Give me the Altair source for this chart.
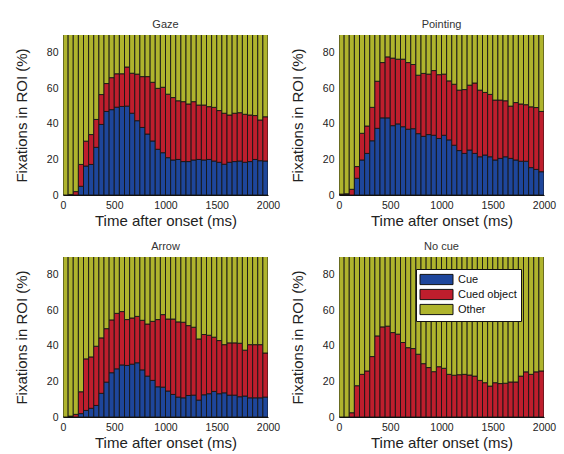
import altair as alt
import pandas as pd

# ---- data (percent of fixations per 50 ms bin) ----
bin_starts = list(range(0, 2000, 50))
bin_width = 50
categories = ["Cue", "Cued object", "Other"]
colors = ["#1e469b", "#be1e2d", "#afb42d"]

gaze_cue = [0, 0, 0, 4.9, 16.3, 17.2, 26.8, 39.7, 47, 48, 49.4, 49.8, 50, 46, 41.8, 38, 34.3, 30.4, 25.7, 23.8,
            21, 19.7, 20, 18.8, 18.8, 19.7, 20, 19.7, 20, 19.1, 18.4, 17.3, 18.4, 18.8, 19.1, 18.4, 18.8, 20, 19.3, 19.1]
gaze_cued = [0, 0.3, 1.9, 12.3, 14.0, 16.8, 15.7, 16.8, 15.7, 18.0, 18.8, 18.4, 22.0, 22.5, 26.2, 28.6, 32.3, 33.0, 34.3, 36.8,
             35.7, 35.1, 33.0, 33.7, 32.4, 32.8, 30.6, 30.9, 29.7, 30.2, 29.1, 28.7, 26.6, 27.2, 27.2, 27.0, 26.2, 24.7, 22.9, 24.9]

point_cue = [0, 0.3, 0, 9.4, 19.7, 23.4, 30.5, 37.5, 43.4, 43.4, 39, 40, 38.4, 37, 37.3, 34.5, 33, 34, 33.6, 31.8,
             33.6, 31, 28, 25, 23.4, 25.3, 23.4, 21.5, 22.5, 21.5, 19.7, 20.6, 21.5, 20.6, 19.7, 19, 19, 15.4, 14.4, 13.1]
point_cued = [0.5, 0.4, 3.2, 6.6, 15.0, 15.4, 18.8, 26.5, 31.1, 34.3, 38.0, 36.4, 38.0, 37.5, 36.1, 32.9, 35.4, 34.0, 36.4, 35.9,
              34.4, 33.2, 34.3, 34.0, 35.9, 36.5, 39.6, 37.5, 35.2, 35.1, 33.7, 32.8, 31.5, 29.4, 32.3, 32.2, 31.8, 34.2, 34.8, 33.9]

arrow_cue = [0, 0.3, 0, 1.9, 3.7, 4.9, 6.5, 13.3, 19.6, 24.9, 27.1, 29.3, 29, 29.7, 30.5, 26.5, 23, 20.6, 17, 16.8,
             14.6, 12.7, 11.2, 10.8, 12.1, 12.3, 9.5, 12.5, 13.1, 14.4, 13.1, 13.6, 12.3, 12.3, 11.4, 11.8, 10.8, 10.8, 10.8, 11.2]
arrow_cued = [0, 0.2, 1.5, 12.3, 29.0, 28.9, 33.3, 31.2, 30.1, 29.7, 31.2, 30.0, 25.8, 26.0, 26.1, 27.9, 29.3, 33.2, 37.8, 40.8,
              40.5, 42.4, 42.3, 42.5, 39.3, 38.2, 34.4, 33.9, 32.9, 30.5, 29.9, 27.1, 29.4, 29.4, 30.1, 25.8, 29.9, 29.9, 29.9, 24.8]

nocue_cue = [0] * 40
nocue_cued = [0, 0, 2.4, 17.6, 24, 25.9, 34, 45.6, 50.7, 51.1, 47.5, 46.6, 41.9, 39, 38.5, 35.3, 30, 27.8, 25.5, 28.3,
              27.4, 24, 23.5, 23.8, 24, 23.6, 23, 20.6, 19.3, 17.4, 19.3, 18.8, 19, 19.7, 19.7, 23, 25.4, 24, 25.4, 25.9]

conditions = [
    ("Gaze", gaze_cue, gaze_cued),
    ("Pointing", point_cue, point_cued),
    ("Arrow", arrow_cue, arrow_cued),
    ("No cue", nocue_cue, nocue_cued),
]

rows = []
for name, cue, cued in conditions:
    for t, c, o in zip(bin_starts, cue, cued):
        other = 100 - c - o
        for k, (cat, v) in enumerate(zip(categories, [c, o, other])):
            rows.append({"condition": name, "start": t, "end": t + bin_width,
                         "category": cat, "value": v, "ord": k})
df = pd.DataFrame(rows)

FONT = "Liberation Sans"


def panel(name, show_legend=False):
    d = df[df["condition"] == name]
    if show_legend:
        legend = alt.Legend(
            title=None, orient="none", legendX=77, legendY=12,
            symbolType="M-2.75,-0.85H2.75V0.85H-2.75Z", symbolSize=144,
            symbolStrokeColor="#111", symbolStrokeWidth=1, symbolOpacity=1,
            symbolOffset=10, labelOffset=15,
            labelFontSize=11, labelFont=FONT, labelColor="#111",
            fillColor="white", strokeColor="#111", padding=4, rowPadding=0,
        )
    else:
        legend = None
    return alt.Chart(d, title=alt.TitleParams(name, fontSize=11, font=FONT, fontWeight="normal",
                                              color="#333", offset=5)).transform_stack(
        stack="value", groupby=["start"], sort=[alt.SortField("ord", order="ascending")],
        as_=["y0", "y1"]
    ).mark_bar(
        stroke="#151515", strokeWidth=0.9, clip=True, opacity=1
    ).encode(
        x=alt.X("start:Q", scale=alt.Scale(domain=[0, 2000], nice=False, padding=0),
                axis=alt.Axis(values=[0, 500, 1000, 1500, 2000], format="d", labelFlush=False,
                              title="Time after onset (ms)")),
        x2="end:Q",
        y=alt.Y("y0:Q", scale=alt.Scale(domain=[0, 90], nice=False, padding=0),
                axis=alt.Axis(values=[0, 20, 40, 60, 80], title="Fixations in ROI (%)")),
        y2="y1:Q",
        color=alt.Color("category:N", scale=alt.Scale(domain=categories, range=colors), legend=legend),
    ).properties(width=205, height=160)


chart = alt.concat(
    panel("Gaze"), panel("Pointing"), panel("Arrow"), panel("No cue", show_legend=True),
    columns=2, spacing=alt.RowColnumber(row=12, column=10),
).resolve_scale(color="independent").properties(
    padding={"left": 14, "top": 19, "right": 5, "bottom": 5}, background="white"
).configure_axis(
    grid=False, ticks=False, domainColor="#111", domainWidth=1,
    labelFont=FONT, labelFontSize=10.5, labelColor="#222", labelPadding=5,
    titleFont=FONT, titleFontSize=15, titleFontWeight="normal", titleColor="#222",
    titlePadding=3,
).configure_axisY(titlePadding=17).configure_legend(strokeWidth=1).configure_view(stroke=None)

chart.save("out.html", embed_options={"renderer": "svg", "actions": False})
